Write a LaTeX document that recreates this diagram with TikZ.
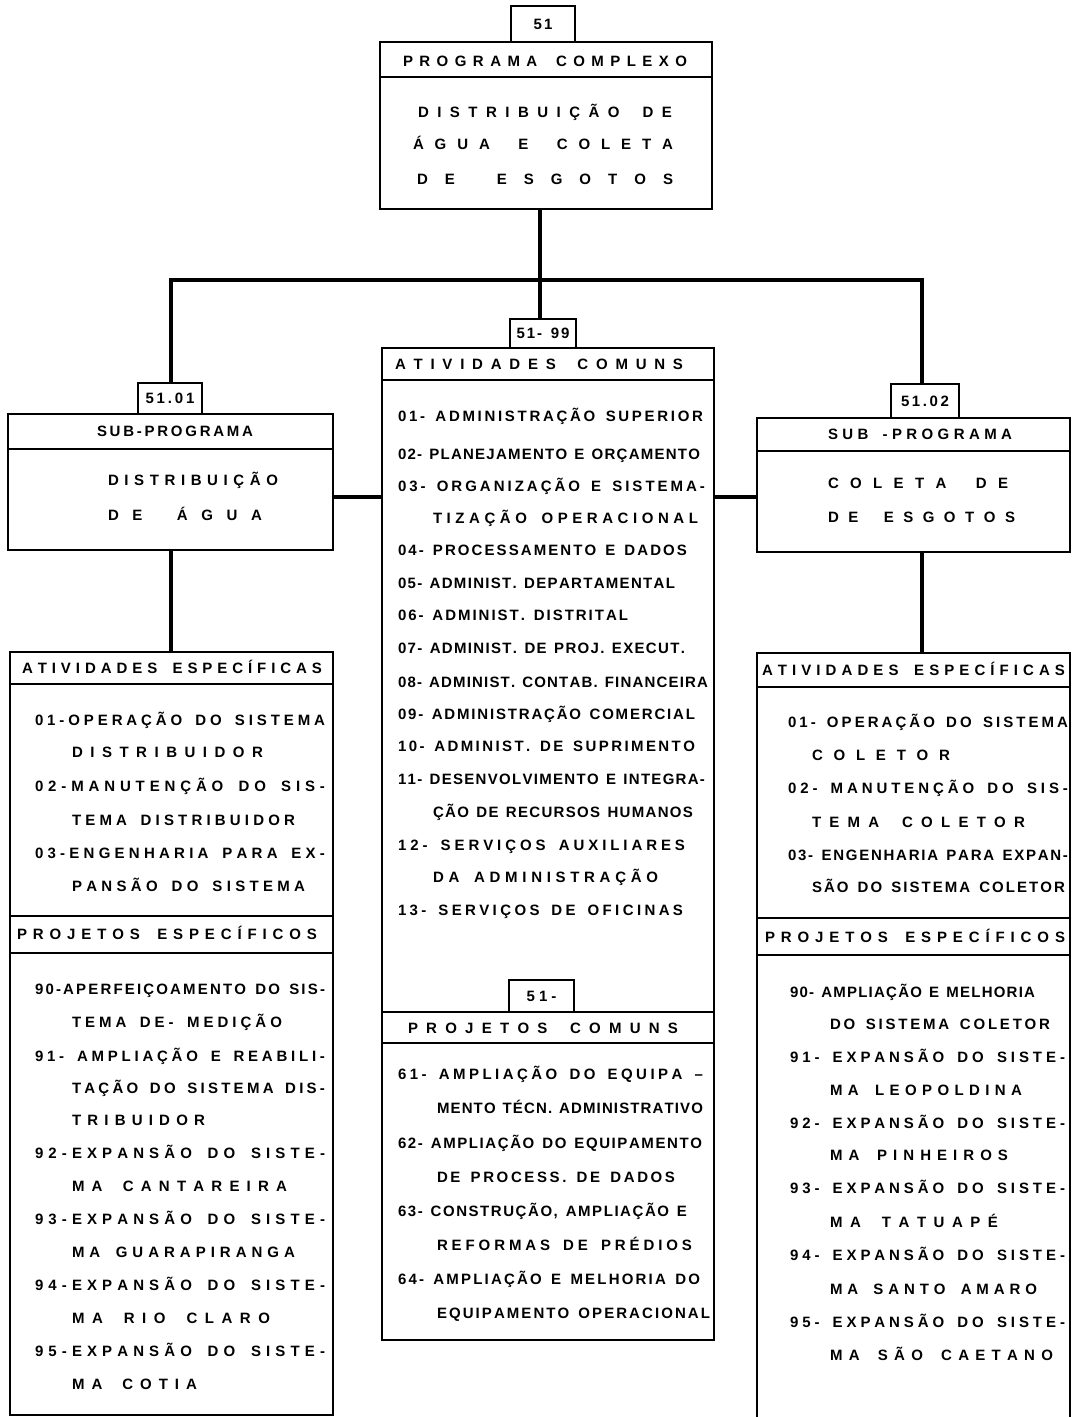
\documentclass[tikz,border=0pt]{standalone}
\usepackage{fontspec}
\setmainfont{Liberation Sans}
\ExplSyntaxOn
\cs_new_protected:Npn \spreadtext #1 #2
  {
    \hbox_to_wd:nn {#1}
      {
        \bool_set_true:N \l_tmpa_bool
        \str_map_inline:nn {#2}
          {
            \tl_if_blank:nTF {##1}
              { \hskip 0.3em plus 1.2fil \relax }
              {
                \bool_if:NF \l_tmpa_bool { \hskip 0pt plus 1fil \relax }
                ##1
                \bool_set_false:N \l_tmpa_bool
              }
          }
      }
  }
\ExplSyntaxOff
\newcommand\ltext[5]{\node[lt] (#1) at (#2,#3+5.3) {\spreadtext{\dimexpr #4pt-#2pt\relax}{#5}};}
\begin{document}
\begin{tikzpicture}[x=1pt,y=-1pt,
  box/.style={draw, line width=1.6pt, inner sep=0pt, outer sep=0pt, anchor=north west},
  tab/.style={box, font=\bfseries\fontsize{15}{17}\selectfont},
  divline/.style={line width=1.6pt},
  conn/.style={line width=4pt},
  lt/.style={anchor=base west, inner sep=0pt, outer sep=0pt, font=\bfseries\fontsize{15}{17}\selectfont}]
\fill[white] (0,0) rectangle (1077,1417);
\useasboundingbox (0,0) rectangle (1077,1417);

% ---- boxes ----
\node[tab, minimum width=64pt, minimum height=36pt] (tab51) at (511,6) {\spreadtext{19pt}{51}};
\node[box, minimum width=332pt, minimum height=167pt] (prog) at (380,42) {};
\draw[divline] (380,77) -- (712,77);

\node[tab, minimum width=64pt, minimum height=31pt] (tab1) at (138,383) {\spreadtext{49pt}{51.01}};
\node[box, minimum width=325pt, minimum height=136pt] (sub1) at (8,414) {};
\draw[divline] (8,449) -- (333,449);

\node[tab, minimum width=68pt, minimum height=34pt] (tab2) at (891,384) {\spreadtext{48pt}{51.02}};
\node[box, minimum width=313pt, minimum height=134pt] (sub2) at (757,418) {};
\draw[divline] (757,451) -- (1070,451);

\node[tab, minimum width=66pt, minimum height=29pt] (tab99) at (510,319) {\spreadtext{53pt}{51- 99}};
\node[box, minimum width=332pt, minimum height=992pt] (cen) at (382,348) {};
\draw[divline] (382,380) -- (714,380);
\node[tab, minimum width=65pt, minimum height=32pt] (tabpc) at (509,980) {\spreadtext{30pt}{51-}};
\draw[divline] (382,1012) -- (714,1012);
\draw[divline] (382,1043) -- (714,1043);

\node[box, minimum width=323pt, minimum height=763pt] (lbox) at (10,652) {};
\draw[divline] (10,684) -- (333,684);
\draw[divline] (10,916) -- (333,916);
\draw[divline] (10,953) -- (333,953);

\node[inner sep=0pt, outer sep=0pt, anchor=north west, minimum width=313pt, minimum height=764pt] (rbox) at (757,653) {};
\draw[divline] (rbox.south west) -- (rbox.north west) -- (rbox.north east) -- (rbox.south east);
\draw[divline] (757,687) -- (1070,687);
\draw[divline] (757,918) -- (1070,918);
\draw[divline] (757,955) -- (1070,955);

% ---- connectors ----
\coordinate (j) at (540,280);
\coordinate (jl) at (171,280);
\coordinate (jr) at (922,280);
\coordinate (hy) at (0,497);
\draw[conn] (prog.south -| j) -- (j);
\draw[conn] (jl |- tab1.north) -- (jl) -- (jr) -- (jr |- tab2.north);
\draw[conn] (j) -- (j |- tab99.north);
\draw[conn] (sub1.south -| jl) -- (lbox.north -| jl);
\draw[conn] (sub2.south -| jr) -- (rbox.north -| jr);
\draw[conn] (sub1.east |- hy) -- (cen.west |- hy);
\draw[conn] (cen.east |- hy) -- (sub2.west |- hy);

% ---- top texts ----
\ltext{p0}{403}{61}{687}{PROGRAMA COMPLEXO}
\ltext{p1}{418}{112}{672}{DISTRIBUIÇÃO DE}
\ltext{p2}{413}{144}{673}{ÁGUA E COLETA}
\ltext{p3}{417}{179}{673}{DE ESGOTOS}

\ltext{s1h}{97}{431}{253}{SUB-PROGRAMA}
\ltext{s1a}{108}{480}{278}{DISTRIBUIÇÃO}
\ltext{s1b}{108}{515}{262}{DE ÁGUA}

\ltext{s2h}{828}{434}{1012}{SUB -PROGRAMA}
\ltext{s2a}{828}{483}{1008}{COLETA DE}
\ltext{s2b}{828}{517}{1015}{DE ESGOTOS}

% ---- centre ----
\ltext{ch}{395}{364}{683}{ATIVIDADES COMUNS}
\ltext{c01}{398}{416}{703}{01- ADMINISTRAÇÃO SUPERIOR}
\ltext{c02}{398}{454}{700}{02- PLANEJAMENTO E ORÇAMENTO}
\ltext{c03}{398}{486}{705}{03- ORGANIZAÇÃO E SISTEMA-}
\ltext{c03b}{433}{518}{698}{TIZAÇÃO OPERACIONAL}
\ltext{c04}{398}{550}{687}{04- PROCESSAMENTO E DADOS}
\ltext{c05}{398}{583}{675}{05- ADMINIST. DEPARTAMENTAL}
\ltext{c06}{398}{615}{628}{06- ADMINIST. DISTRITAL}
\ltext{c07}{398}{648}{685}{07- ADMINIST. DE PROJ. EXECUT.}
\ltext{c08}{398}{682}{708}{08- ADMINIST. CONTAB. FINANCEIRA}
\ltext{c09}{398}{714}{695}{09- ADMINISTRAÇÃO COMERCIAL}
\ltext{c10}{398}{746}{695}{10- ADMINIST. DE SUPRIMENTO}
\ltext{c11}{398}{779}{705}{11- DESENVOLVIMENTO E INTEGRA-}
\ltext{c11b}{433}{812}{693}{ÇÃO DE RECURSOS HUMANOS}
\ltext{c12}{398}{845}{685}{12- SERVIÇOS AUXILIARES}
\ltext{c12b}{433}{877}{658}{DA ADMINISTRAÇÃO}
\ltext{c13}{398}{910}{683}{13- SERVIÇOS DE OFICINAS}

\ltext{ph}{408}{1028}{678}{PROJETOS COMUNS}
\ltext{d61}{398}{1074}{703}{61- AMPLIAÇÃO DO EQUIPA –}
\ltext{d61b}{437}{1108}{703}{MENTO TÉCN. ADMINISTRATIVO}
\ltext{d62}{398}{1143}{702}{62- AMPLIAÇÃO DO EQUIPAMENTO}
\ltext{d62b}{437}{1177}{675}{DE PROCESS. DE DADOS}
\ltext{d63}{398}{1211}{687}{63- CONSTRUÇÃO, AMPLIAÇÃO E}
\ltext{d63b}{437}{1245}{692}{REFORMAS DE PRÉDIOS}
\ltext{d64}{398}{1279}{700}{64- AMPLIAÇÃO E MELHORIA DO}
\ltext{d64b}{437}{1313}{710}{EQUIPAMENTO OPERACIONAL}

% ---- left ----
\ltext{lh}{22}{668}{322}{ATIVIDADES ESPECÍFICAS}
\ltext{l01}{35}{720}{325}{01-OPERAÇÃO DO SISTEMA}
\ltext{l01b}{72}{752}{263}{DISTRIBUIDOR}
\ltext{l02}{35}{786}{325}{02-MANUTENÇÃO DO SIS-}
\ltext{l02b}{72}{820}{295}{TEMA DISTRIBUIDOR}
\ltext{l03}{35}{853}{325}{03-ENGENHARIA PARA EX-}
\ltext{l03b}{72}{886}{305}{PANSÃO DO SISTEMA}
\ltext{lph}{17}{934}{317}{PROJETOS ESPECÍFICOS}
\ltext{l90}{35}{989}{325}{90-APERFEIÇOAMENTO DO SIS-}
\ltext{l90b}{72}{1022}{282}{TEMA DE- MEDIÇÃO}
\ltext{l91}{35}{1056}{325}{91- AMPLIAÇÃO E REABILI-}
\ltext{l91b}{72}{1088}{325}{TAÇÃO DO SISTEMA DIS-}
\ltext{l91c}{72}{1120}{205}{TRIBUIDOR}
\ltext{l92}{35}{1153}{325}{92-EXPANSÃO DO SISTE-}
\ltext{l92b}{72}{1186}{287}{MA CANTAREIRA}
\ltext{l93}{35}{1219}{325}{93-EXPANSÃO DO SISTE-}
\ltext{l93b}{72}{1252}{295}{MA GUARAPIRANGA}
\ltext{l94}{35}{1285}{325}{94-EXPANSÃO DO SISTE-}
\ltext{l94b}{72}{1318}{270}{MA RIO CLARO}
\ltext{l95}{35}{1351}{325}{95-EXPANSÃO DO SISTE-}
\ltext{l95b}{72}{1384}{197}{MA COTIA}

% ---- right ----
\ltext{rh}{762}{670}{1065}{ATIVIDADES ESPECÍFICAS}
\ltext{r01}{788}{722}{1068}{01- OPERAÇÃO DO SISTEMA}
\ltext{r01b}{812}{755}{950}{COLETOR}
\ltext{r02}{788}{788}{1068}{02- MANUTENÇÃO DO SIS-}
\ltext{r02b}{812}{822}{1025}{TEMA COLETOR}
\ltext{r03}{788}{855}{1068}{03- ENGENHARIA PARA EXPAN-}
\ltext{r03b}{812}{887}{1065}{SÃO DO SISTEMA COLETOR}
\ltext{rph}{765}{937}{1065}{PROJETOS ESPECÍFICOS}
\ltext{r90}{790}{992}{1035}{90- AMPLIAÇÃO E MELHORIA}
\ltext{r90b}{830}{1024}{1050}{DO SISTEMA COLETOR}
\ltext{r91}{790}{1057}{1065}{91- EXPANSÃO DO SISTE-}
\ltext{r91b}{830}{1090}{1022}{MA LEOPOLDINA}
\ltext{r92}{790}{1123}{1065}{92- EXPANSÃO DO SISTE-}
\ltext{r92b}{830}{1155}{1008}{MA PINHEIROS}
\ltext{r93}{790}{1188}{1065}{93- EXPANSÃO DO SISTE-}
\ltext{r93b}{830}{1222}{998}{MA TATUAPÉ}
\ltext{r94}{790}{1255}{1065}{94- EXPANSÃO DO SISTE-}
\ltext{r94b}{830}{1289}{1037}{MA SANTO AMARO}
\ltext{r95}{790}{1322}{1065}{95- EXPANSÃO DO SISTE-}
\ltext{r95b}{830}{1355}{1053}{MA SÃO CAETANO}
\end{tikzpicture}
\end{document}
